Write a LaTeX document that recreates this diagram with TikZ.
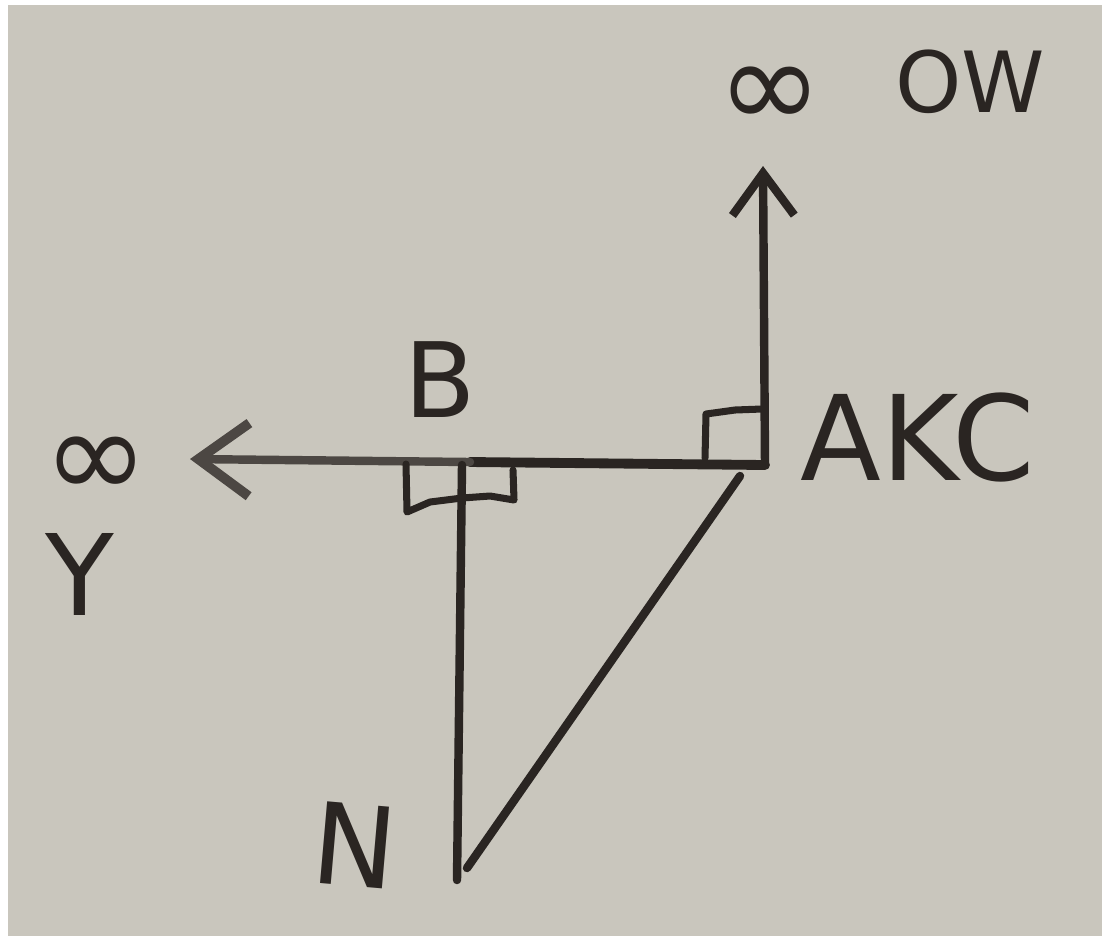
\documentclass[tikz,border=0pt]{standalone}
\usepackage{fontspec}
\setmainfont{DejaVu Sans}
\usetikzlibrary{arrows.meta}
\definecolor{paper}{HTML}{C9C6BD}
\definecolor{ink}{HTML}{2A2522}
\definecolor{inkgray}{HTML}{4C4743}
\begin{document}
\begin{tikzpicture}[x=0.025cm,y=-0.025cm,line cap=round,line join=round,
  pen/.style={draw=ink,line width=6pt},
  thinpen/.style={draw=ink,line width=5pt},
  lbl/.style={text=ink,inner sep=0pt,anchor=center}]
\fill[white] (0,0) rectangle (1102,936);
\fill[paper] (8,5) rectangle (1102,936);
\useasboundingbox (0,0) rectangle (1102,936);
% points
\coordinate (A) at (765,465);
\coordinate (Up) at (763,166);
\coordinate (B) at (462,465);
\coordinate (Bl) at (470,462);
\coordinate (Y) at (190,459);
\coordinate (N) at (457,880);
\coordinate (D1) at (740,476);
\coordinate (D2) at (467,868);
% lines
\draw[pen,-{Straight Barb[length=30pt,width=44pt,line width=6pt]}] (A) -- (Up);
\draw[pen,line width=7pt] (A) -- (Bl);
\draw[pen,draw=inkgray,line width=6pt,-{Straight Barb[length=36pt,width=52pt,line width=7pt]}] (Bl) -- (Y);
\draw[pen] (B) -- (N);
\draw[pen] (D1) -- (D2);
% right-angle marks
\draw[thinpen] (705,458) -- (706,414) -- (735,410) -- (762,409);
\draw[thinpen] (406,464) -- (407,512) -- (430,502) -- (462,498) -- (490,496) -- (514,500) -- (513,470);
% labels
\node[lbl,font=\fontsize{74}{74}\selectfont] (lB) at (440,380) {B};
\node[lbl,font=\fontsize{84}{84}\selectfont] (lAKC) at (918,437) {AKC};
\node[lbl,font=\fontsize{90}{90}\selectfont] (lInfW) at (770,98) {∞};
\node[lbl,font=\fontsize{60}{60}\selectfont] (lOW) at (970,82) {OW};
\node[lbl,font=\fontsize{90}{90}\selectfont] (lInfY) at (96,468) {∞};
\node[lbl,font=\fontsize{80}{80}\selectfont] (lY) at (80,574) {Y};
\node[lbl,font=\fontsize{80}{80}\selectfont,rotate=-5] (lN) at (355,845) {N};
\end{tikzpicture}
\end{document}
